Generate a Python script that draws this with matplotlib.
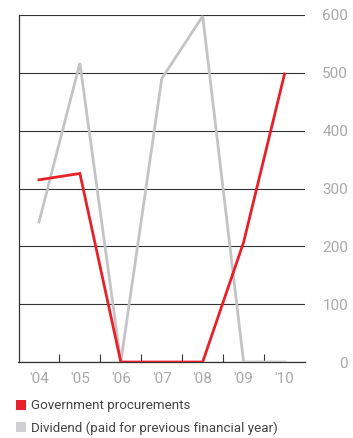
import numpy as np
import matplotlib
matplotlib.use("Agg")
import matplotlib.pyplot as plt
from matplotlib.patches import Patch

plt.rcParams['font.family'] = ['Roboto', 'DejaVu Sans']

years = ["'04", "'05", "'06", "'07", "'08", "'09", "'10"]
procurements = [315, 326, 0, 0, 0, 207, 498]
dividend = [242, 517, 0, 490, 598, 0, 0]
y_ticks = [0, 100, 200, 300, 400, 500, 600]

RED = '#e8202a'
GREY = '#c4c4c8'
TEXT = '#a8a8a8'
INK = '#333333'

fig = plt.figure(figsize=(3.53, 4.38), dpi=100)
ax = fig.add_axes([18.5 / 353, 76 / 438, (305 - 18.5) / 353, (362 - 15) / 438])

x = np.arange(len(years))
ax.plot(x, dividend, color=GREY, lw=2.0, solid_joinstyle='miter', zorder=3)
ax.plot(x, procurements, color=RED, lw=2.0, solid_joinstyle='miter', zorder=4)

ax.set_xlim(-0.5, len(years) - 0.5)
ax.set_ylim(0, 600)

# horizontal rules at every hundred
ax.set_yticks(y_ticks)
ax.yaxis.tick_right()
ax.grid(axis='y', color=INK, lw=0.8)
ax.tick_params(axis='y', length=0, pad=31, labelsize=11, labelcolor=TEXT)
for lbl in ax.get_yticklabels():
    lbl.set_horizontalalignment('right')

# year labels centred on points, small ticks between years
ax.set_xticks(x)
ax.set_xticklabels(years)
ax.set_xticks(x[:-1] + 0.5, minor=True)
ax.tick_params(axis='x', which='major', length=0, pad=7, labelsize=11, labelcolor=TEXT)
ax.tick_params(axis='x', which='minor', direction='in', length=6, width=0.8, color=INK)

for side in ['top', 'right']:
    ax.spines[side].set_visible(False)
for side in ['left', 'bottom']:
    ax.spines[side].set_color(INK)
    ax.spines[side].set_linewidth(0.9)

handles = [Patch(facecolor=RED, label='Government procurements'),
           Patch(facecolor='#d0d0d2', label='Dividend (paid for previous financial year)')]
fig.legend(handles=handles, loc='upper left', bbox_to_anchor=(0.045, 0.088),
           frameon=False, fontsize=9.6, handlelength=0.78, handleheight=0.78,
           handletextpad=0.35, labelspacing=0.65, borderaxespad=0, borderpad=0,
           labelcolor='#444444')

fig.savefig('out.png', dpi=100)
